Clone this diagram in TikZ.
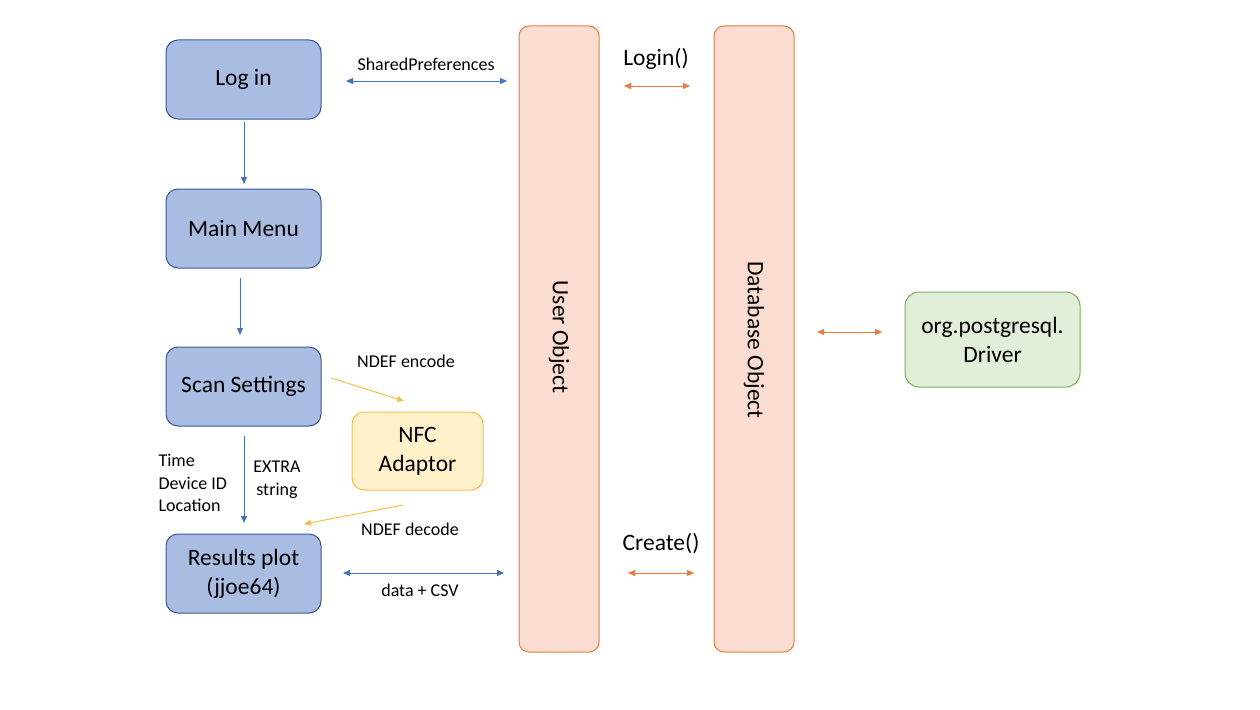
\documentclass[tikz,border=0pt]{standalone}
\usepackage{fontspec}
\setmainfont{Carlito}
\usetikzlibrary{arrows.meta}
\definecolor{bfill}{HTML}{A9BDE2}
\definecolor{bline}{HTML}{3A5894}
\definecolor{barrow}{HTML}{4472C4}
\definecolor{ofill}{HTML}{FADDD0}
\definecolor{oline}{HTML}{F07A3E}
\definecolor{yfill}{HTML}{FFF1C9}
\definecolor{yline}{HTML}{F8C04A}
\definecolor{gfill}{HTML}{E1EED8}
\definecolor{gline}{HTML}{79B255}
\tikzset{
  bigfont/.style={font=\fontsize{23.5}{29}\selectfont},
  box/.style={draw=bline, fill=bfill, rounded corners=12pt, line width=1pt, minimum width=155pt, minimum height=79pt, align=center, bigfont},
  bar/.style={draw=oline, fill=ofill, rounded corners=10pt, line width=1pt, minimum width=80pt, minimum height=626pt},
  barlabel/.style={rotate=-90, bigfont},
  nfc/.style={draw=yline, fill=yfill, rounded corners=12pt, line width=1pt, minimum width=131pt, minimum height=78pt, align=center, bigfont},
  drv/.style={draw=gline, fill=gfill, rounded corners=14pt, line width=1pt, minimum width=175pt, minimum height=95pt, align=center, bigfont},
  small/.style={font=\fontsize{18}{22.5}\selectfont},
  big/.style={bigfont},
  barr/.style={draw=barrow, line width=1pt, -{Triangle[length=7pt,width=6pt]}},
  bbarr/.style={draw=barrow, line width=1pt, {Triangle[length=7pt,width=6pt]}-{Triangle[length=7pt,width=6pt]}},
  oarr/.style={draw=oline, line width=1pt, {Triangle[length=7pt,width=6pt]}-{Triangle[length=7pt,width=6pt]}},
  yarr/.style={draw=yline, line width=1pt, -{Triangle[length=7pt,width=6pt]}},
}
\begin{document}
\begin{tikzpicture}[x=1pt,y=-1pt]
\useasboundingbox (0,0) rectangle (1260,709);
% nodes
\node[box] (login) at (243.5,79.5) {Log in};
\node[box] (menu) at (243.5,228.5) {Main Menu};
\node[box] (scan) at (243.5,386.5) {Scan Settings};
\node[box] (res) at (243.5,573.5) {Results plot\\(jjoe64)};
\node[nfc] (nfc) at (417.5,451) {NFC\\Adaptor};
\node[bar] (user) at (559,339) {};
\node[barlabel] (userlbl) at (559,337) {User Object};
\node[bar] (db) at (754,339) {};
\node[barlabel] (dblbl) at (754,340) {Database Object};
\node[drv] (drv) at (992.5,339.5) {org.postgresql.\\Driver};
% coordinates for floating arrow ends
\coordinate (a1) at (346,81); \coordinate (a2) at (507,81);
\coordinate (b1) at (244,122); \coordinate (b2) at (244,184);
\coordinate (c1) at (240,278); \coordinate (c2) at (240,335);
\coordinate (d1) at (244,436); \coordinate (d2) at (244,523);
\coordinate (e1) at (331,378); \coordinate (e2) at (404,401);
\coordinate (f1) at (403,505); \coordinate (f2) at (304,524);
\coordinate (g1) at (343,573); \coordinate (g2) at (504,573);
\coordinate (h1) at (624,86); \coordinate (h2) at (690,86);
\coordinate (i1) at (628,573); \coordinate (i2) at (694,573);
\coordinate (j1) at (817,332); \coordinate (j2) at (882,332);
% connectors
\draw[bbarr] (a1) -- (a2);
\draw[barr] (b1) -- (b2);
\draw[barr] (c1) -- (c2);
\draw[barr] (d1) -- (d2);
\draw[yarr] (e1) -- (e2);
\draw[yarr] (f1) -- (f2);
\draw[bbarr] (g1) -- (g2);
\draw[oarr] (h1) -- (h2);
\draw[oarr] (i1) -- (i2);
\draw[oarr] (j1) -- (j2);
% labels
\node[small] (lsp) at (426,64) {SharedPreferences};
\node[big] (llogin) at (656,59) {Login()};
\node[small] (lenc) at (406,361) {NDEF encode};
\node[small, align=left, anchor=west] (ltime) at (155,483) {Time\\Device ID\\Location};
\node[small, align=center] (lextra) at (277,480) {EXTRA\\string};
\node[small] (ldec) at (410,529) {NDEF decode};
\node[small] (ldata) at (420,590) {data + CSV};
\node[big] (lcreate) at (661,544) {Create()};
\end{tikzpicture}
\end{document}
